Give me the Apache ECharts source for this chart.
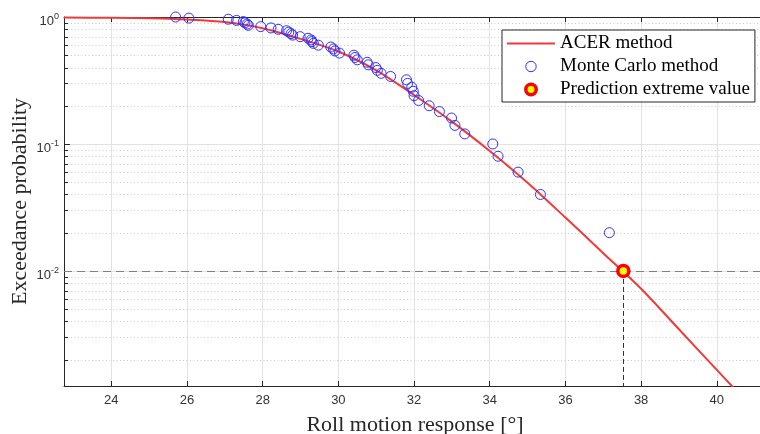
<!DOCTYPE html>
<html>
<head>
<meta charset="utf-8">
<style>
  html, body { margin: 0; padding: 0; background: #fff; }
  #chart { width: 760px; height: 434px; }
</style>
<script src="https://cdn.jsdelivr.net/npm/echarts@6/dist/echarts.min.js"></script>
</head>
<body>
<div id="chart"></div>
<script>
  // axis ranges
  const xMin = 22.75;
  const xMax = 41.3;
  const yMin = 0.00124;
  const yMax = 1;

  // ACER fitted curve
  const acerX = [22.75, 24, 25, 26, 27, 28, 29, 30, 31, 32, 33, 34, 35, 36, 37, 38, 39, 40, 40.6];
  const acerP = [0.991, 0.986, 0.977, 0.955, 0.912, 0.815, 0.672, 0.535, 0.38, 0.243, 0.15,
    0.0881, 0.0495, 0.0263, 0.0138, 0.00724, 0.00347, 0.00166, 0.00107];

  // Monte Carlo samples
  const mcX = [37.16, 35.34, 34.75, 34.22, 34.08, 33.34, 33.08, 32.99, 32.67, 32.40,
    32.12, 32.00, 31.98, 31.94, 31.83, 31.80, 31.38, 31.13, 31.03, 30.99,
    30.79, 30.76, 30.50, 30.44, 30.41, 30.03, 29.91, 29.87, 29.80, 29.47,
    29.34, 29.30, 29.28, 29.20, 28.99, 28.79, 28.75, 28.69, 28.63, 28.41,
    28.22, 27.95, 27.62, 27.59, 27.53, 27.49, 27.31, 27.09, 26.05, 25.70];
  const mcP = [0.02, 0.04, 0.06, 0.08, 0.10, 0.12, 0.14, 0.16, 0.18, 0.20,
    0.22, 0.24, 0.26, 0.28, 0.30, 0.32, 0.34, 0.36, 0.38, 0.40,
    0.42, 0.44, 0.46, 0.48, 0.50, 0.52, 0.54, 0.56, 0.58, 0.60,
    0.62, 0.64, 0.66, 0.68, 0.70, 0.72, 0.74, 0.76, 0.78, 0.80,
    0.82, 0.84, 0.86, 0.88, 0.90, 0.92, 0.94, 0.96, 0.98, 1.00];

  // predicted extreme value
  const predX = [37.53];
  const predP = [0.01];

  // minor log ticks
  const yMinorTicks = [0.002, 0.003, 0.004, 0.005, 0.006, 0.007, 0.008, 0.009,
    0.02, 0.03, 0.04, 0.05, 0.06, 0.07, 0.08, 0.09,
    0.2, 0.3, 0.4, 0.5, 0.6, 0.7, 0.8, 0.9];

  const serif = 'Liberation Serif';
  const sans = 'Liberation Sans';
  const axisColor = '#262626';
  const gridColor = '#e3e3e3';
  const red = '#f03a3a';
  const blue = '#3030ff';

  const mcStyle = { color: 'rgba(255,255,255,0)', borderColor: blue, borderWidth: 1 };
  const predStyle = { color: '#ffff00', borderColor: '#ff0000', borderWidth: 3.5 };

  const chart = echarts.init(document.getElementById('chart'));

  const option = {
    animation: false,
    backgroundColor: '#fff',
    grid: { left: 64, top: 17, width: 702, bottom: 48, outerBoundsMode: 'none' },
    legend: {
      left: 502,
      top: 30,
      orient: 'vertical',
      selectedMode: false,
      itemWidth: 48,
      itemHeight: 13,
      itemGap: 4,
      padding: [4, 5, 3, 5],
      borderColor: axisColor,
      borderWidth: 1,
      backgroundColor: '#fff',
      textStyle: { fontFamily: serif, fontSize: 19, color: '#000' },
      data: [
        { name: 'ACER method', icon: 'path://M0,0H48V2H0Z', itemStyle: { color: red } },
        { name: 'Monte Carlo method', itemStyle: mcStyle },
        { name: 'Prediction extreme value', itemStyle: predStyle },
      ],
      z: 10,
    },
    xAxis: [
      {
        type: 'value',
        min: xMin,
        max: xMax,
        splitNumber: 9,
        minInterval: 2,
        maxInterval: 2,
        name: 'Roll motion response [°]',
        nameLocation: 'middle',
        nameGap: 28,
        nameMoveOverlap: false,
        nameTextStyle: { fontFamily: serif, fontSize: 22, color: axisColor },
        axisLine: { onZero: false, lineStyle: { color: axisColor } },
        axisTick: { inside: true, length: 5, lineStyle: { color: axisColor } },
        axisLabel: { showMinLabel: false, showMaxLabel: false, fontFamily: sans, fontSize: 13, color: '#333' },
        splitLine: { show: true, lineStyle: { color: gridColor } },
      },
      {
        type: 'value',
        position: 'top',
        min: xMin,
        max: xMax,
        splitNumber: 9,
        minInterval: 2,
        maxInterval: 2,
        axisLine: { onZero: false, lineStyle: { color: axisColor } },
        axisTick: { inside: true, length: 5, lineStyle: { color: axisColor } },
        axisLabel: { show: false },
        splitLine: { show: false },
      },
    ],
    yAxis: {
      type: 'log',
      logBase: 10,
      min: yMin,
      max: yMax,
      splitNumber: 3,
      name: 'Exceedance probability',
      nameLocation: 'middle',
      nameGap: 33,
      nameMoveOverlap: false,
      nameTextStyle: { fontFamily: serif, fontSize: 22, color: axisColor },
      axisLine: { show: true, lineStyle: { color: axisColor } },
      axisTick: { show: true, inside: true, length: 6, lineStyle: { color: axisColor } },
      axisLabel: {
        showMinLabel: false,
        margin: 5,
        padding: [6, 0, 0, 0],
        formatter: (v) => '{b|10}{s|' + Math.round(Math.log10(v)) + '}',
        rich: {
          b: { fontFamily: sans, fontSize: 13, color: '#333', lineHeight: 16, verticalAlign: 'bottom' },
          s: { fontFamily: sans, fontSize: 9, color: '#333', lineHeight: 16, verticalAlign: 'top' },
        },
      },
      splitLine: { show: true, lineStyle: { color: gridColor } },
    },
    series: [
      {
        // minor log grid + minor ticks
        type: 'custom',
        silent: true,
        z: 1,
        clip: false,
        data: yMinorTicks.map((v) => [xMin, v]),
        encode: { x: 0, y: 1 },
        renderItem: (params, api) => {
          const cs = params.coordSys;
          const p = api.coord([api.value(0), api.value(1)]);
          const y = Math.round(p[1]) + 0.5;
          return {
            type: 'group',
            children: [
              { type: 'line', shape: { x1: cs.x, y1: y, x2: cs.x + cs.width, y2: y },
                style: { stroke: '#c8c8c8', lineWidth: 1, lineDash: [1, 2.5] } },
              { type: 'line', shape: { x1: cs.x, y1: y, x2: cs.x + 4, y2: y },
                style: { stroke: axisColor, lineWidth: 1 } },
            ],
          };
        },
      },
      {
        name: 'ACER method',
        type: 'line',
        z: 3,
        color: red,
        data: acerX.map((x, i) => [x, acerP[i]]),
        symbol: 'none',
        smooth: 0.3,
        lineStyle: { color: red, width: 2 },
        itemStyle: { color: red },
        emphasis: { disabled: true },
        markLine: {
          silent: true,
          symbol: ['none', 'none'],
          label: { show: false },
          data: [
            { yAxis: predP[0], lineStyle: { color: '#808080', type: [8, 5], width: 1 } },
            [
              { coord: [predX[0], predP[0]], lineStyle: { color: '#333', type: [5, 3], width: 1 } },
              { coord: [predX[0], yMin] },
            ],
          ],
        },
      },
      {
        name: 'Monte Carlo method',
        type: 'line',
        z: 4,
        color: blue,
        data: mcX.map((x, i) => [x, mcP[i]]),
        symbol: 'circle',
        symbolSize: 10,
        showSymbol: true,
        lineStyle: { width: 0, opacity: 0 },
        itemStyle: mcStyle,
        emphasis: { disabled: true },
      },
      {
        name: 'Prediction extreme value',
        type: 'line',
        z: 5,
        color: '#ff0000',
        data: predX.map((x, i) => [x, predP[i]]),
        symbol: 'circle',
        symbolSize: 11,
        lineStyle: { width: 0, opacity: 0 },
        itemStyle: predStyle,
        emphasis: { disabled: true },
      },
    ],
  };

  chart.setOption(option);
</script>
</body>
</html>
